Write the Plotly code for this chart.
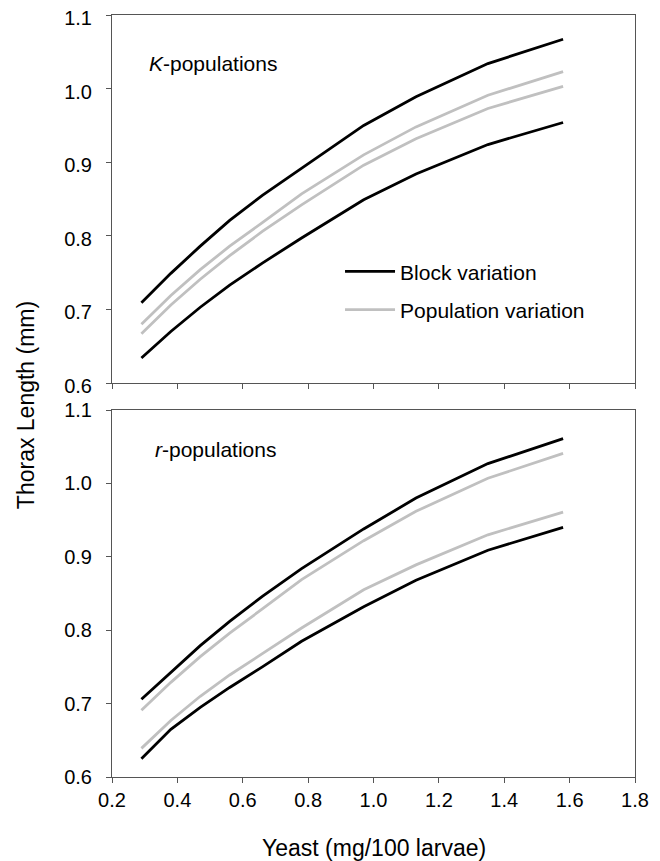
import plotly.graph_objects as go

# Yeast levels (mg/100 larvae)
yeast = [0.29, 0.38, 0.47, 0.56, 0.66, 0.78, 0.97, 1.13, 1.35, 1.58]

# K-populations
k_block_upper = [0.709, 0.749, 0.786, 0.821, 0.855, 0.892, 0.950, 0.989, 1.034, 1.067]
k_pop_upper = [0.680, 0.719, 0.754, 0.786, 0.818, 0.857, 0.910, 0.948, 0.991, 1.023]
k_pop_lower = [0.667, 0.706, 0.741, 0.773, 0.806, 0.842, 0.896, 0.932, 0.973, 1.003]
k_block_lower = [0.634, 0.670, 0.703, 0.733, 0.763, 0.797, 0.849, 0.884, 0.924, 0.954]

# r-populations
r_block_upper = [0.706, 0.743, 0.779, 0.812, 0.846, 0.884, 0.938, 0.980, 1.027, 1.061]
r_pop_upper = [0.691, 0.729, 0.764, 0.796, 0.829, 0.869, 0.922, 0.962, 1.007, 1.041]
r_pop_lower = [0.639, 0.677, 0.710, 0.739, 0.768, 0.803, 0.855, 0.889, 0.930, 0.961]
r_block_lower = [0.625, 0.665, 0.695, 0.722, 0.750, 0.785, 0.832, 0.868, 0.909, 0.940]

x_ticks = [0.2, 0.4, 0.6, 0.8, 1.0, 1.2, 1.4, 1.6, 1.8]
y_ticks = [0.6, 0.7, 0.8, 0.9, 1.0, 1.1]

BLACK = "#000000"
GRAY = "#c0c0c0"
AXIS = "#555555"
FONT = "Liberation Sans, Arial, sans-serif"
LW = 2.8

fig = go.Figure()

def add(y, color, xa, ya, name=None, show=False, group=None):
    fig.add_trace(go.Scatter(
        x=yeast, y=y, mode="lines", xaxis=xa, yaxis=ya,
        line=dict(color=color, width=LW),
        name=name, showlegend=show, legendgroup=group,
        hoverinfo="skip"))

# top panel (K)
add(k_block_upper, BLACK, "x", "y", "Block variation", True, "block")
add(k_block_lower, BLACK, "x", "y", group="block")
add(k_pop_upper, GRAY, "x", "y", "Population variation", True, "pop")
add(k_pop_lower, GRAY, "x", "y", group="pop")
# bottom panel (r)
add(r_block_upper, BLACK, "x2", "y2", group="block")
add(r_block_lower, BLACK, "x2", "y2", group="block")
add(r_pop_upper, GRAY, "x2", "y2", group="pop")
add(r_pop_lower, GRAY, "x2", "y2", group="pop")

common_axis = dict(
    showline=True, linecolor=AXIS, linewidth=1, mirror=True,
    ticks="outside", ticklen=5, tickcolor=AXIS, tickwidth=1,
    showgrid=False, zeroline=False, automargin=False,
    ticklabeloverflow="allow",
    tickfont=dict(family=FONT, size=20, color="#000000"),
)

fig.update_layout(
    width=652, height=853, autosize=False,
    margin=dict(l=104, r=25, t=7, b=84),
    plot_bgcolor="white", paper_bgcolor="white",
    font=dict(family=FONT, color="#000000"),
    xaxis=dict(domain=[0, 1], range=[0.2, 1.8], tickvals=x_ticks,
               showticklabels=False, anchor="y", **common_axis),
    yaxis=dict(domain=[0.517, 1], range=[0.6, 1.1], tickvals=y_ticks,
               tickformat=".1f", anchor="x", ticklabelstandoff=10,
               ticklabelshift=3, **common_axis),
    xaxis2=dict(domain=[0, 1], range=[0.2, 1.8], tickvals=x_ticks,
                tickformat=".1f", anchor="y2", **common_axis),
    yaxis2=dict(domain=[0, 0.4816], range=[0.6, 1.1], tickvals=y_ticks,
                tickformat=".1f", anchor="x2", ticklabelstandoff=10, **common_axis),
    legend=dict(x=0.436, y=0.690, xanchor="left", yanchor="top",
                bgcolor="rgba(0,0,0,0)", font=dict(family=FONT, size=21),
                tracegroupgap=8, itemwidth=50),
    showlegend=True,
)

fig.add_annotation(text="<i>K</i>-populations", x=0.307, y=1.034, xref="x", yref="y",
                   xanchor="left", yanchor="middle", showarrow=False,
                   font=dict(family=FONT, size=21))
fig.add_annotation(text="<i>r</i>-populations", x=0.324, y=1.046, xref="x2", yref="y2",
                   xanchor="left", yanchor="middle", showarrow=False,
                   font=dict(family=FONT, size=21))
fig.add_annotation(text="Thorax Length (mm)", x=-0.1644, y=0.488, xref="paper", yref="paper",
                   xanchor="center", yanchor="middle", textangle=-90, showarrow=False,
                   font=dict(family=FONT, size=23))
fig.add_annotation(text="Yeast (mg/100 larvae)", x=0.5, y=-0.0928, xref="paper", yref="paper",
                   xanchor="center", yanchor="middle", showarrow=False,
                   font=dict(family=FONT, size=23))

fig.write_html("out.html")
